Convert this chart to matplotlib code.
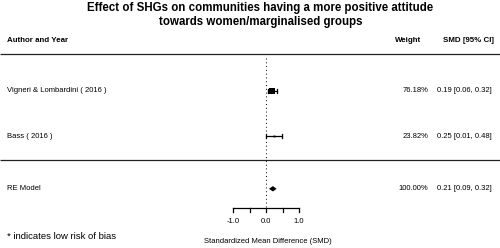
import matplotlib
matplotlib.use("Agg")
import matplotlib.pyplot as plt
import matplotlib.transforms as mtransforms
from matplotlib.patches import Polygon

plt.rcParams['font.family'] = ['Liberation Sans', 'DejaVu Sans']

# ---- data ----
title = "Effect of SHGs on communities having a more positive attitude\ntowards women/marginalised groups"
studies = ["Vigneri & Lombardini ( 2016 )", "Bass ( 2016 )"]
smd = [0.19, 0.25]
ci_low = [0.06, 0.01]
ci_high = [0.32, 0.48]
weights = [76.18, 23.82]
re_label = "RE Model"
re_smd = 0.21
re_low = 0.09
re_high = 0.32
re_weight = 100.00
tick_values = [-1.0, -0.5, 0.0, 0.5, 1.0]
tick_labels = {-1.0: "-1.0", 0.0: "0.0", 1.0: "1.0"}
xlabel = "Standardized Mean Difference (SMD)"
footnote = "* indicates low risk of bias"

# ---- layout (pixel-based) ----
W, H = 500, 248
x0_px, unit_px = 266.0, 33.0
row_y = [90.7, 136.0]
re_y = 188.8
axis_y = 207.7
fs_small = 5.5

fig = plt.figure(figsize=(W / 100, H / 100), dpi=100)
ax = fig.add_axes([0, 0, 1, 1])
ax.set_xlim((0 - x0_px) / unit_px, (W - x0_px) / unit_px)
ax.set_ylim(H, 0)
ax.axis('off')

tb = mtransforms.blended_transform_factory(ax.transAxes, ax.transData)
def px(x):
    return x / W

# title
ax.text(px(260.5), 15.3, title, transform=tb, ha='center', va='center',
        fontsize=8.3, fontweight='bold', linespacing=1.18)

# header
ax.text(px(7), 41, "Author and Year", transform=tb, ha='left', va='center',
        fontsize=5.65, fontweight='bold')
ax.text(px(421), 41, "Weight", transform=tb, ha='right', va='center',
        fontsize=5.65, fontweight='bold')
ax.text(px(494), 41, "SMD [95% CI]", transform=tb, ha='right', va='center',
        fontsize=5.65, fontweight='bold')

# separators
for yy in (54, 159.5):
    ax.plot([0, 1], [yy, yy], transform=tb, color='#222222', lw=0.9,
            solid_capstyle='butt')

# reference line
ax.plot([0, 0], [58, axis_y], color='black', lw=0.7, ls=(0, (1.0, 2.9)))

# studies
maxw = max(weights)
for i, (name, m, lo, hi, w) in enumerate(zip(studies, smd, ci_low, ci_high, weights)):
    y = row_y[i]
    ax.text(px(7), y, name, transform=tb, ha='left', va='center', fontsize=fs_small)
    ax.plot([lo, hi], [y, y], color='black', lw=0.9)
    for e in (lo, hi):
        ax.plot([e, e], [y - 2.2, y + 2.2], color='black', lw=0.9)
    size_px = 6.0 * w / maxw
    ax.plot([m], [y], marker='s', color='black', markersize=size_px * 0.72,
            markeredgewidth=0)
    ax.text(px(428), y, f"{w:.2f}%", transform=tb, ha='right', va='center', fontsize=fs_small)
    ax.text(px(492), y, f"{m:.2f} [{lo:.2f}, {hi:.2f}]", transform=tb,
            ha='right', va='center', fontsize=fs_small)

# RE model
ax.text(px(7), re_y, re_label, transform=tb, ha='left', va='center', fontsize=fs_small)
dia = Polygon([[re_low, re_y], [re_smd, re_y - 2.7], [re_high, re_y],
               [re_smd, re_y + 2.7]], closed=True, color='black', lw=0)
ax.add_patch(dia)
ax.text(px(428), re_y, f"{re_weight:.2f}%", transform=tb, ha='right', va='center', fontsize=fs_small)
ax.text(px(492), re_y, f"{re_smd:.2f} [{re_low:.2f}, {re_high:.2f}]", transform=tb,
        ha='right', va='center', fontsize=fs_small)

# x axis
ax.plot([tick_values[0], tick_values[-1]], [axis_y, axis_y], color='black', lw=0.9)
for t in tick_values:
    ax.plot([t, t], [axis_y, axis_y + 4.5], color='black', lw=0.9)
    if t in tick_labels:
        ax.text(t, axis_y + 14, tick_labels[t], ha='center', va='center', fontsize=fs_small)
ax.text(0.05, 241.7, xlabel, ha='center', va='center', fontsize=fs_small)

# footnote
ax.text(px(7), 236.7, footnote, transform=tb, ha='left', va='center', fontsize=6.8)

fig.savefig("out.png", dpi=100)
